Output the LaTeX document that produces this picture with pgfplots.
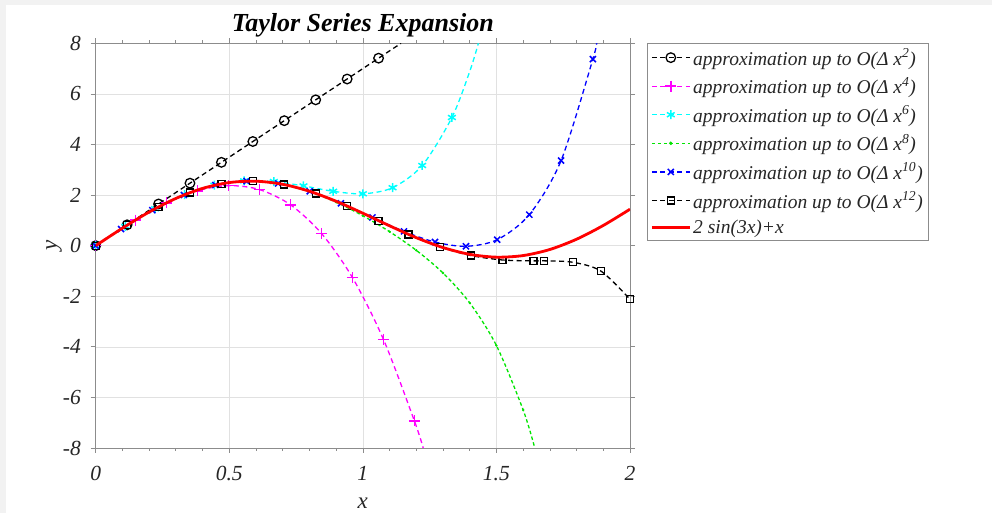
\documentclass[border=0pt]{standalone}
\usepackage{fontspec}
\setmainfont{Liberation Serif}
\usepackage{pgfplots}
\usepackage{pgfplotstable}
\pgfplotsset{compat=1.18}

\definecolor{axgray}{RGB}{140,140,140}
\definecolor{txtgray}{RGB}{38,38,38}
\definecolor{gridgray}{RGB}{225,225,225}
\definecolor{mmag}{RGB}{255,0,255}
\definecolor{mcyan}{RGB}{0,255,255}
\definecolor{mgreen}{RGB}{0,230,0}
\definecolor{mblue}{RGB}{0,0,255}
\definecolor{mred}{RGB}{255,0,0}
\tikzset{mdash/.style={dash pattern=on 5pt off 3.5pt}}

% O(dx^2): markers on a 2/17 grid, last row = where it leaves the box
\pgfplotstableread{
x y
0 0
0.1176 0.8235
0.2353 1.6471
0.3529 2.4706
0.4706 3.2941
0.5882 4.1176
0.7059 4.9412
0.8235 5.7647
0.9412 6.5882
1.0588 7.4118
1.1429 8
}\tabPtwo

\pgfplotstableread{
x y
0 0
0.149 1.0132
0.265 1.6875
0.381 2.1692
0.497 2.3741
0.613 2.2179
0.729 1.6162
0.845 0.4848
0.961 -1.2605
1.077 -3.7042
1.193 -6.9304
1.2259 -8
}\tabPfour

\pgfplotstableread{
x y
0 0
0.1111 0.7655
0.2222 1.4590
0.3333 2.0167
0.4444 2.3912
0.5556 2.5600
0.6667 2.5333
0.7778 2.3626
0.8889 2.1487
1.0 2.05
1.1111 2.2908
1.2222 3.1695
1.3333 5.0667
1.4 6.8859
1.4325 8
}\tabPsix

\pgfplotstableread{
x y
0 0
0.1 0.6910
0.2 1.3293
0.3 1.8667
0.4 2.2641
0.5 2.4948
0.6 2.5466
0.7 2.4222
0.8 2.1371
0.9 1.7154
1.0 1.1821
1.1 0.5523
1.2 -0.1840
1.3 -1.0813
1.4 -2.2625
1.5 -3.9485
1.6 -6.4932
1.6436 -8
}\tabPeight

\pgfplotstableread{
x y
0 0
0.095 0.6573
0.212 1.4000
0.330 2.0021
0.448 2.3968
0.565 2.5496
0.683 2.4586
0.801 2.1475
0.918 1.6739
1.036 1.1155
1.154 0.5639
1.270 0.1428
1.386 -0.0255
1.503 0.2359
1.623 1.2256
1.742 3.3642
1.861 7.3755
1.8746 8
}\tabPten

\pgfplotstableread{
x y
0 0
0.1176 0.8113
0.2353 1.5311
0.3529 2.0967
0.4706 2.4462
0.5882 2.5508
0.7059 2.4140
0.8235 2.0653
0.9412 1.5675
1.0588 0.9882
1.171 0.4414
1.289 -0.0508
1.404 -0.3896
1.523 -0.5667
1.639 -0.6015
1.679 -0.6006
1.786 -0.6561
1.891 -1.0046
2.0 -2.1203
}\tabPtwelve

\pgfplotstableread{
x y
0 0
0.1 0.6910
0.2 1.3293
0.3 1.8667
0.4 2.2641
0.5 2.4950
0.6 2.5477
0.7 2.4264
0.8 2.1509
0.9 1.7548
1.0 1.2822
1.1 0.7845
1.2 0.3150
1.3 -0.0755
1.4 -0.3432
1.5 -0.4551
1.6 -0.3923
1.7 -0.1516
1.8 0.2545
1.9 0.7986
2.0 1.4412
}\tabExact

\begin{document}
\begin{tikzpicture}
\useasboundingbox (-95.7pt,-65pt) rectangle (896.3pt,448pt);
\fill[black!5] (-95.7pt,-65pt) rectangle (896.3pt,448pt);
\fill[white] (-89.7pt,-65pt) rectangle (896.3pt,443pt);

\begin{axis}[
    at={(0pt,0pt)}, anchor=south west,
    scale only axis, width=534.3pt, height=404.7pt,
    xmin=0, xmax=2, ymin=-8, ymax=8,
    xtick={0,0.5,1,1.5,2}, xticklabels={0,0.5,1,1.5,2},
    ytick={-8,-6,-4,-2,0,2,4,6,8},
    yticklabels={-8,-6,-4,-2,0,2,4,6,8},
    minor x tick num=4,
    tick align=outside, major tick length=5pt, minor tick length=3pt,
    axis line style={axgray, line width=0.8pt},
    tick style={axgray, line width=0.7pt},
    grid=major, major grid style={gridgray, line width=0.6pt},
    ticklabel style={font=\fontsize{21.5}{22}\selectfont\itshape, text=txtgray, inner sep=0pt},
    xticklabel shift=13pt, yticklabel shift=9.7pt,
    xlabel={x}, ylabel={y},
    xlabel style={at={(axis description cs:0.5,-0.149)}, anchor=base,
        font=\fontsize{23}{24}\selectfont\itshape, text=txtgray},
    ylabel style={at={(axis description cs:-0.0725,0.5)}, anchor=base,
        font=\fontsize{23}{24}\selectfont\itshape, text=txtgray},
    title={Taylor Series Expansion},
    title style={at={(axis description cs:0.5,1.0148)}, anchor=base,
        font=\fontsize{26}{28}\selectfont\bfseries\itshape},
    clip mode=individual,
    legend cell align=left,
    legend style={at={(1.032,1)}, anchor=north west, draw=axgray,
        line width=0.6pt, font=\fontsize{19.5}{20}\selectfont\itshape,
        text=txtgray, inner xsep=3pt, inner ysep=3pt, row sep=6.5pt},
    legend image code/.code={\draw[mark repeat=2,mark phase=2]
        plot coordinates {(0pt,0pt) (19pt,0pt) (38pt,0pt)};},
]
\addplot[black, mdash, line width=1.3pt, forget plot] table[x=x,y=y] {\tabPtwo};
\addplot[black, only marks, mark=o, mark size=4.8pt, mark options={line width=1.3pt},
    skip coords between index={10}{11}, forget plot] table[x=x,y=y] {\tabPtwo};

\addplot[mmag, mdash, line width=1.3pt, smooth, forget plot] table[x=x,y=y] {\tabPfour};
\addplot[mmag, only marks, mark=+, mark size=5.5pt, mark options={line width=1.6pt, draw=mmag},
    skip coords between index={11}{12}, forget plot] table[x=x,y=y] {\tabPfour};

\addplot[mcyan, mdash, line width=1.3pt, smooth, forget plot] table[x=x,y=y] {\tabPsix};
\addplot[mcyan, only marks, mark=asterisk, mark size=4.5pt, mark options={line width=1.5pt},
    skip coords between index={13}{15}, forget plot] table[x=x,y=y] {\tabPsix};

\addplot[mgreen, dash pattern=on 3.5pt off 2.5pt, line width=1.3pt, smooth, forget plot] table[x=x,y=y] {\tabPeight};
\addplot[mgreen, only marks, mark=*, mark size=1pt,
    skip coords between index={17}{18}, forget plot] table[x=x,y=y] {\tabPeight};

\addplot[mblue, mdash, line width=1.3pt, smooth, forget plot] table[x=x,y=y] {\tabPten};
\addplot[mblue, only marks, mark=x, mark size=4.3pt, mark options={line width=1.5pt},
    skip coords between index={17}{18}, forget plot] table[x=x,y=y] {\tabPten};

\addplot[black, mdash, line width=1.3pt, smooth, forget plot] table[x=x,y=y] {\tabPtwelve};
\addplot[black, only marks, mark=square, mark size=3.5pt, mark options={line width=1.3pt},
    forget plot] table[x=x,y=y] {\tabPtwelve};

\addplot[mred, line width=2.8pt, smooth, forget plot] table[x=x,y=y] {\tabExact};

\addlegendimage{black, mdash, line width=1.3pt, mark=o, mark size=4.8pt, mark options={solid, line width=1.3pt}}
\addlegendentry{approximation up to O(Δ x\textsuperscript{2})}
\addlegendimage{mmag, mdash, line width=1.3pt, mark=+, mark size=5.5pt, mark options={solid, line width=1.5pt}}
\addlegendentry{approximation up to O(Δ x\textsuperscript{4})}
\addlegendimage{mcyan, mdash, line width=1.3pt, mark=asterisk, mark size=4.5pt, mark options={solid, line width=1.5pt}}
\addlegendentry{approximation up to O(Δ x\textsuperscript{6})}
\addlegendimage{mgreen, dash pattern=on 3.5pt off 2.5pt, line width=1.3pt, mark=*, mark size=1pt, mark options={solid}}
\addlegendentry{approximation up to O(Δ x\textsuperscript{8})}
\addlegendimage{mblue, mdash, line width=1.3pt, mark=x, mark size=4.3pt, mark options={solid, line width=1.5pt}}
\addlegendentry{approximation up to O(Δ x\textsuperscript{10})}
\addlegendimage{black, mdash, line width=1.3pt, mark=square, mark size=3.5pt, mark options={solid, line width=1.3pt}}
\addlegendentry{approximation up to O(Δ x\textsuperscript{12})}
\addlegendimage{mred, line width=2.8pt}
\addlegendentry{2 sin(3x)+x}
\end{axis}
\end{tikzpicture}
\end{document}
